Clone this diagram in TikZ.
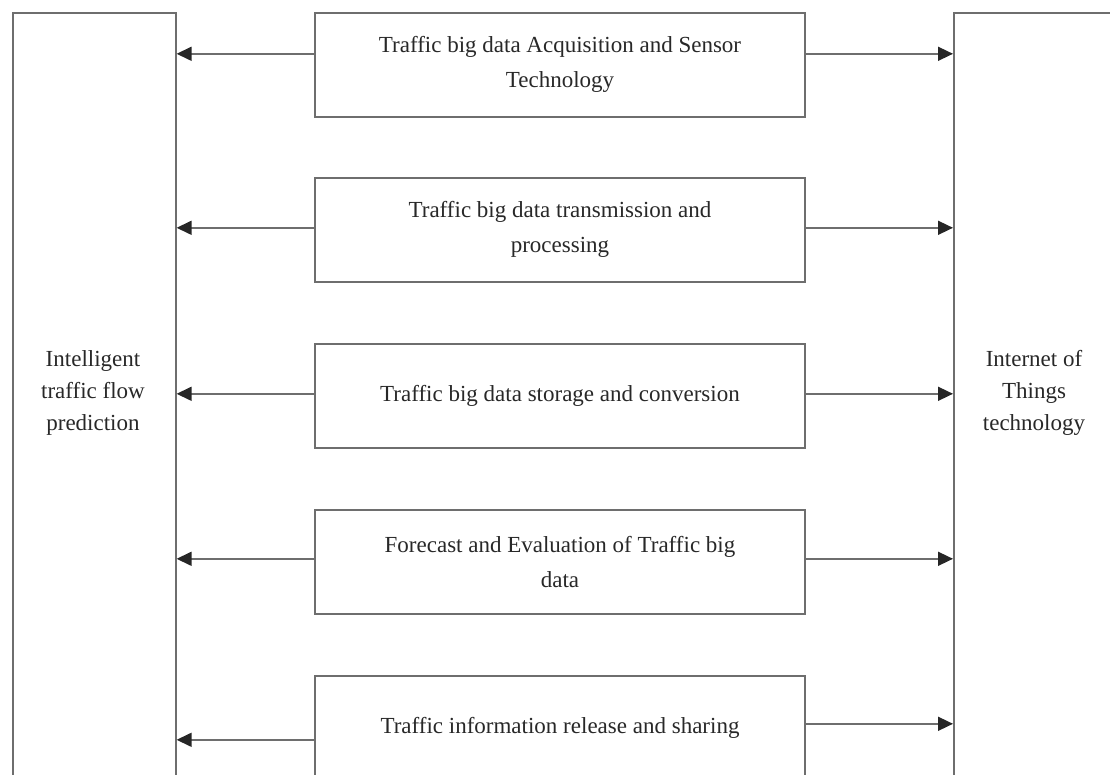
\documentclass[tikz,border=0pt]{standalone}
\usepackage{fontspec}
\setmainfont{Liberation Serif}
\usetikzlibrary{arrows.meta}
\definecolor{linegray}{RGB}{110,110,110}
\definecolor{textgray}{RGB}{40,40,40}
\begin{document}
\begin{tikzpicture}[x=1pt,y=-1pt,
  box/.style={draw=linegray, line width=1.6pt, fill=white, inner sep=0pt},
  midbox/.style={box, minimum width=490pt, minimum height=104pt, anchor=north,
    align=center, text=textgray, font=\fontsize{23}{35}\selectfont},
  lbl/.style={align=center, text=textgray, font=\fontsize{23}{32}\selectfont},
  arr/.style={draw=linegray, line width=1.6pt,
    -{Triangle[length=15pt,width=14pt,color=black!85]}}
]
\useasboundingbox (0,0) rectangle (1110,774);
\begin{scope}
\clip (0,0) rectangle (1110,774);
\node[box, minimum width=163pt, minimum height=800pt, anchor=north west] (L) at (12,12) {};
\node[box, minimum width=200pt, minimum height=800pt, anchor=north west] (R) at (953,12) {};
\node[lbl] (Ltext) at (93,393) {Intelligent\\traffic flow\\prediction};
\node[lbl] (Rtext) at (1034,393) {Internet of\\Things\\technology};

\node[midbox] (b1) at (560,12) {Traffic big data Acquisition and Sensor\\Technology};
\node[midbox] (b2) at (560,177) {Traffic big data transmission and\\processing};
\node[midbox] (b3) at (560,343) {Traffic big data storage and conversion};
\node[midbox] (b4) at (560,509) {Forecast and Evaluation of Traffic big\\data};
\node[midbox] (b5) at (560,675) {Traffic information release and sharing};

\coordinate (l1) at ([yshift=11pt]b1.west);
\coordinate (r1) at ([yshift=11pt]b1.east);
\coordinate (l2) at ([yshift=2pt]b2.west);
\coordinate (r2) at ([yshift=2pt]b2.east);
\coordinate (l3) at ([yshift=2pt]b3.west);
\coordinate (r3) at ([yshift=2pt]b3.east);
\coordinate (l4) at ([yshift=3pt]b4.west);
\coordinate (r4) at ([yshift=3pt]b4.east);
\coordinate (l5) at ([yshift=-12pt]b5.west);
\coordinate (r5) at ([yshift=4pt]b5.east);

\foreach \i in {1,...,5}{
  \draw[arr] (l\i) -- (l\i -| L.east);
  \draw[arr] (r\i) -- (r\i -| R.west);
}
\end{scope}
\end{tikzpicture}
\end{document}
